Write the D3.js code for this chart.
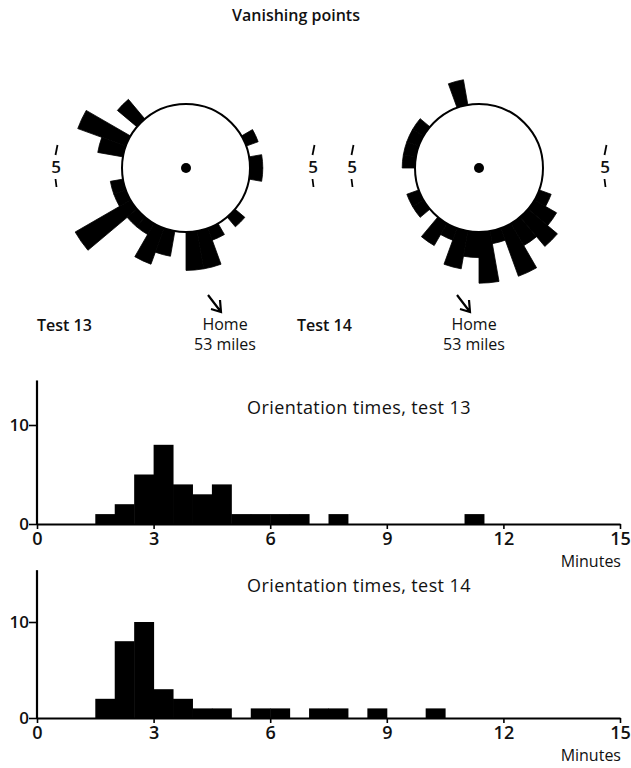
<!DOCTYPE html>
<html>
<head>
<meta charset="utf-8">
<script src="https://cdn.jsdelivr.net/npm/d3@7"></script>
<style>
  body { margin: 0; background: #fff; }
  svg text { font-family: "Open Sans", "Lato", sans-serif; fill: #111; font-weight: 600; }
</style>
</head>
<body>
<svg width="631" height="768"></svg>
<script>
// vanishing point bearings, 10 degree sectors, clockwise from north
var sectorStarts = d3.range(0, 360, 10);
var test13Sectors = [0,0,0,0,0,0,1,0,1,1,0,0,0,1,0,1,3,3,0,2,3,1,1,5,1,1,0,0,2,4,0,2,0,0,0,0];
var test14Sectors = [0,0,0,0,0,0,0,0,0,0,0,1,2,3,2,4,1,4,2,3,1,2,0,1,1,0,0,1,1,1,1,0,0,0,2,0];

// orientation times, half minute bins from 0 to 15 minutes
var binStarts = d3.range(0, 15, 0.5);
var times13 = [0,0,0,1,2,5,8,4,3,4,1,1,1,1,0,1,0,0,0,0,0,0,1,0,0,0,0,0,0,0];
var times14 = [0,0,0,2,8,10,3,2,1,1,0,1,1,0,1,1,0,1,0,0,1,0,0,0,0,0,0,0,0,0];
var minuteTicks = [0, 3, 6, 9, 12, 15];
var countTicks = [0, 10];

var svg = d3.select("svg");

svg.append("text")
  .attr("x", 296).attr("y", 21)
  .attr("text-anchor", "middle")
  .style("font-size", "16px")
  .text("Vanishing points");

var RING = 64;
var radius = d3.scaleLinear().domain([0, 5]).range([RING, RING + 64]);
var arc = d3.arc();

function drawRose(cx, cy, counts, label, scaleLeft, scaleRight) {
  var g = svg.append("g").attr("transform", "translate(" + cx + "," + cy + ")");
  var data = sectorStarts.map(function(s, i) { return {start: s, n: counts[i]}; })
    .filter(function(d) { return d.n > 0; });

  g.selectAll("path.sector")
    .data(data)
    .enter().append("path")
    .attr("class", "sector")
    .attr("d", function(d) {
      return arc({
        innerRadius: RING - 2,
        outerRadius: radius(d.n),
        startAngle: d.start * Math.PI / 180,
        endAngle: (d.start + 10) * Math.PI / 180
      });
    })
    .attr("fill", "#000")
    .attr("stroke", "#000")
    .attr("stroke-width", 0.8)
    .attr("stroke-linejoin", "miter");

  g.append("circle")
    .attr("r", RING)
    .attr("fill", "#fff")
    .attr("stroke", "#000")
    .attr("stroke-width", 2);
  g.append("circle").attr("r", 5).attr("fill", "#000");

  // "5" scale marks either side
  [scaleLeft, scaleRight].forEach(function(dx) {
    var s = g.append("g").attr("transform", "translate(" + dx + ",0)");
    s.append("line").attr("x1", 1.5).attr("y1", -23).attr("x2", -0.5).attr("y2", -13)
      .attr("stroke", "#000").attr("stroke-width", 1.8);
    s.append("line").attr("x1", -0.5).attr("y1", 11).attr("x2", 0.5).attr("y2", 19)
      .attr("stroke", "#000").attr("stroke-width", 1.8);
    s.append("text").attr("y", 5).attr("text-anchor", "middle")
      .style("font-size", "17px").text("5");
  });

  svg.append("text")
    .attr("x", label.x).attr("y", 331)
    .style("font-size", "16px")
    .text(label.text);

  var hx = label.home;
  svg.append("path")
    .attr("d", "M" + (hx - 17) + ",295 L" + (hx - 4) + ",312 M" + (hx - 5) + ",300 L" + (hx - 4) + ",312 L" + (hx - 14) + ",309")
    .attr("fill", "none").attr("stroke", "#000").attr("stroke-width", 2.2);
  svg.append("text").attr("x", hx).attr("y", 330).attr("text-anchor", "middle")
    .style("font-size", "16px").style("font-weight", 500).text("Home");
  svg.append("text").attr("x", hx).attr("y", 350).attr("text-anchor", "middle")
    .style("font-size", "16px").style("font-weight", 500).text("53 miles");
}

drawRose(186, 168, test13Sectors, {x: 37, text: "Test 13", home: 225}, -130, 127);
drawRose(479, 168, test14Sectors, {x: 297, text: "Test 14", home: 474}, -127, 126);

var x = d3.scaleLinear().domain([0, 15]).range([37, 620]);

function drawHist(counts, y0, unit, top, title, titleY) {
  var y = d3.scaleLinear().domain([0, 10]).range([y0, y0 - 10 * unit]);
  var g = svg.append("g");

  g.selectAll("rect")
    .data(binStarts.map(function(b, i) { return {b: b, n: counts[i]}; }).filter(function(d) { return d.n > 0; }))
    .enter().append("rect")
    .attr("x", function(d) { return x(d.b); })
    .attr("width", function(d) { return x(d.b + 0.5) - x(d.b) + 0.5; })
    .attr("y", function(d) { return y(d.n); })
    .attr("height", function(d) { return y(0) - y(d.n); })
    .attr("fill", "#000");

  var xa = g.append("g").attr("transform", "translate(0," + y0 + ")")
    .call(d3.axisBottom(x).tickValues(minuteTicks).tickSize(5).tickSizeOuter(0).tickPadding(3));
  xa.select(".domain").attr("stroke-width", 2.2);
  xa.selectAll(".tick line").attr("stroke-width", 1.6);
  xa.selectAll(".tick text").style("font-size", "18px").attr("fill", "#111");

  var ya = g.append("g").attr("transform", "translate(" + x(0) + ",0)")
    .call(d3.axisLeft(y).tickValues(countTicks).tickSize(8).tickSizeOuter(0).tickPadding(0));
  ya.select(".domain").remove();
  ya.selectAll(".tick line").attr("stroke-width", 1.6);
  ya.selectAll(".tick text").style("font-size", "17px").attr("fill", "#111");
  g.append("line")
    .attr("x1", x(0)).attr("x2", x(0))
    .attr("y1", y0).attr("y2", y(top))
    .attr("stroke", "#000").attr("stroke-width", 2.2);

  g.append("text").attr("x", 359).attr("y", titleY).attr("text-anchor", "middle")
    .style("font-size", "18px").style("font-weight", 500).style("letter-spacing", "0.4px")
    .text(title);
  g.append("text").attr("x", 621).attr("y", y0 + 43).attr("text-anchor", "end")
    .style("font-size", "16px").style("font-weight", 500).text("Minutes");
}

drawHist(times13, 524, 9.9, 14.5, "Orientation times, test 13", 414);
drawHist(times14, 718, 9.6, 15.4, "Orientation times, test 14", 592);
</script>
</body>
</html>
